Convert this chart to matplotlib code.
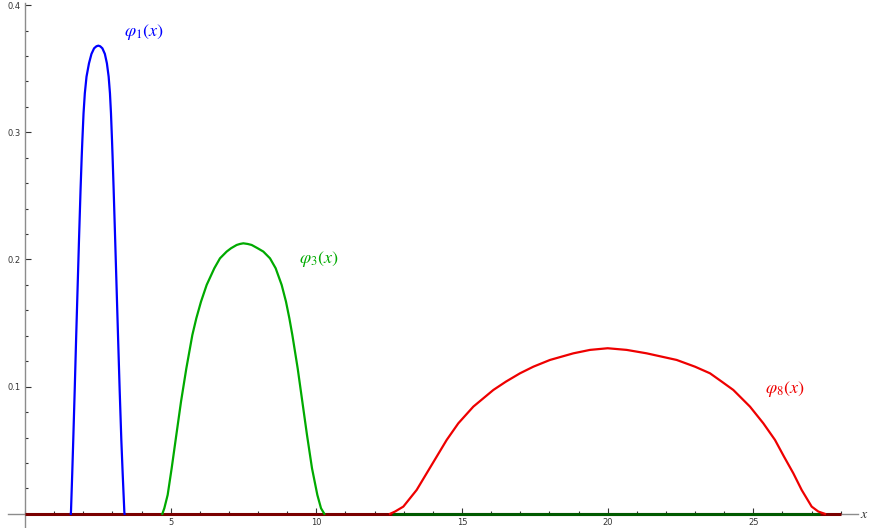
import matplotlib
matplotlib.use("Agg")
import matplotlib.pyplot as plt
from matplotlib.ticker import MultipleLocator, FixedLocator

plt.rcParams['mathtext.fontset'] = 'stix'

# ---- values ----
x_phi1 = [1.570, 1.577, 1.620, 1.655, 1.705, 1.752, 1.802, 1.852, 1.905, 1.945, 1.968, 2.008, 2.052,
          2.110, 2.195, 2.280, 2.370, 2.450, 2.516,
          2.580, 2.655, 2.740, 2.810, 2.870, 2.915, 2.950, 2.985, 3.005, 3.042, 3.094, 3.145,
          3.196, 3.248, 3.305, 3.351, 3.408, 3.415]
y_phi1 = [0.0000, 0.0018, 0.0319, 0.0581, 0.0974, 0.1367, 0.1760, 0.2153, 0.2546, 0.2808, 0.2939, 0.3149, 0.3306,
          0.3437, 0.3542, 0.3616, 0.3660, 0.3676, 0.3681,
          0.3676, 0.3660, 0.3616, 0.3542, 0.3437, 0.3306, 0.3149, 0.2939, 0.2808, 0.2546, 0.2153, 0.1760,
          0.1367, 0.0974, 0.0581, 0.0319, 0.0018, 0.0000]

x_phi3 = [4.713, 4.781, 4.896, 5.033, 5.193, 5.354, 5.537, 5.743, 5.880, 6.040, 6.235, 6.498, 6.692,
          6.921, 7.070, 7.265, 7.379, 7.493,
          7.642, 7.780, 7.986, 8.180, 8.409, 8.603, 8.809, 8.958, 9.073, 9.176, 9.359, 9.519,
          9.679, 9.851, 10.034, 10.160, 10.274]
y_phi3 = [0.0000, 0.0044, 0.0149, 0.0358, 0.0620, 0.0882, 0.1144, 0.1406, 0.1538, 0.1668, 0.1800, 0.1931, 0.2009,
          0.2062, 0.2088, 0.2114, 0.2122, 0.2127,
          0.2122, 0.2114, 0.2088, 0.2062, 0.2009, 0.1931, 0.1800, 0.1668, 0.1538, 0.1406, 0.1144, 0.0882,
          0.0620, 0.0358, 0.0149, 0.0044, 0.0000]

x_phi8 = [12.528, 12.700, 12.986, 13.444, 13.787, 14.131, 14.474, 14.874, 15.389, 16.076, 16.511, 16.991,
          17.449, 18.021, 18.421, 18.822, 19.394, 20.001,
          20.653, 21.340, 21.855, 22.369, 22.999, 23.514, 23.914, 24.314, 24.886, 25.344, 25.745,
          26.054, 26.374, 26.660, 27.004, 27.233, 27.461]
y_phi8 = [0.0000, 0.0018, 0.0057, 0.0188, 0.0319, 0.0450, 0.0581, 0.0712, 0.0843, 0.0974, 0.1040, 0.1105,
          0.1157, 0.1210, 0.1236, 0.1262, 0.1289, 0.1302,
          0.1289, 0.1262, 0.1236, 0.1210, 0.1157, 0.1105, 0.1040, 0.0974, 0.0843, 0.0712, 0.0581,
          0.0450, 0.0319, 0.0188, 0.0057, 0.0018, 0.0000]

x_major = [5, 10, 15, 20, 25]
y_major = [0.1, 0.2, 0.3, 0.4]

zero_red_x   = [0, 28]
zero_green_x = [12.6, 27.3]

#================== Plot ==================
fig = plt.figure(figsize=(8.7, 5.28), dpi=100)
ax = fig.add_axes([0.0087, 0.0027, 0.9777, 0.9913])

ax.set_xlim(-0.6, 28.6)
ax.set_ylim(-0.0100, 0.4015)

for s in ['top', 'right']:
    ax.spines[s].set_visible(False)
ax.spines['left'].set_position(('data', 0))
ax.spines['bottom'].set_position(('data', 0))
for s in ['left', 'bottom']:
    ax.spines[s].set_color('#8c8c8c')
    ax.spines[s].set_linewidth(1.0)

ax.xaxis.set_major_locator(FixedLocator(x_major))
ax.xaxis.set_minor_locator(MultipleLocator(1))
ax.yaxis.set_major_locator(FixedLocator(y_major))
ax.yaxis.set_minor_locator(MultipleLocator(0.02))
ax.tick_params(which='both', direction='in', color='#333333', width=0.8, labelsize=6, labelcolor='#333333', pad=3)
ax.tick_params(which='major', length=4)
ax.tick_params(which='minor', length=2.5)

# zero line, drawn in darker tones
ax.plot(zero_red_x, [0, 0], color='#7a0000', lw=2.2, solid_capstyle='butt', zorder=3)
ax.plot(zero_green_x, [0, 0], color='#005a00', lw=2.2, solid_capstyle='butt', zorder=3)

ax.plot(x_phi1, y_phi1, color='#0000ff', lw=1.6, zorder=4)
ax.plot(x_phi3, y_phi3, color='#00aa00', lw=1.6, zorder=4)
ax.plot(x_phi8, y_phi8, color='#ee0000', lw=1.6, zorder=5)

ax.text(4.08, 0.379, r'$\varphi_1(x)$', color='#0000ff', fontsize=13, ha='center', va='center')
ax.text(10.09, 0.2004, r'$\varphi_3(x)$', color='#00aa00', fontsize=13, ha='center', va='center')
ax.text(26.08, 0.0982, r'$\varphi_8(x)$', color='#ee0000', fontsize=13, ha='center', va='center')

ax.text(28.66, 0.0, r'$x$', color='#333333', fontsize=10, ha='left', va='center', clip_on=False)

plt.savefig("out.png", dpi=100)
plt.close(fig)
